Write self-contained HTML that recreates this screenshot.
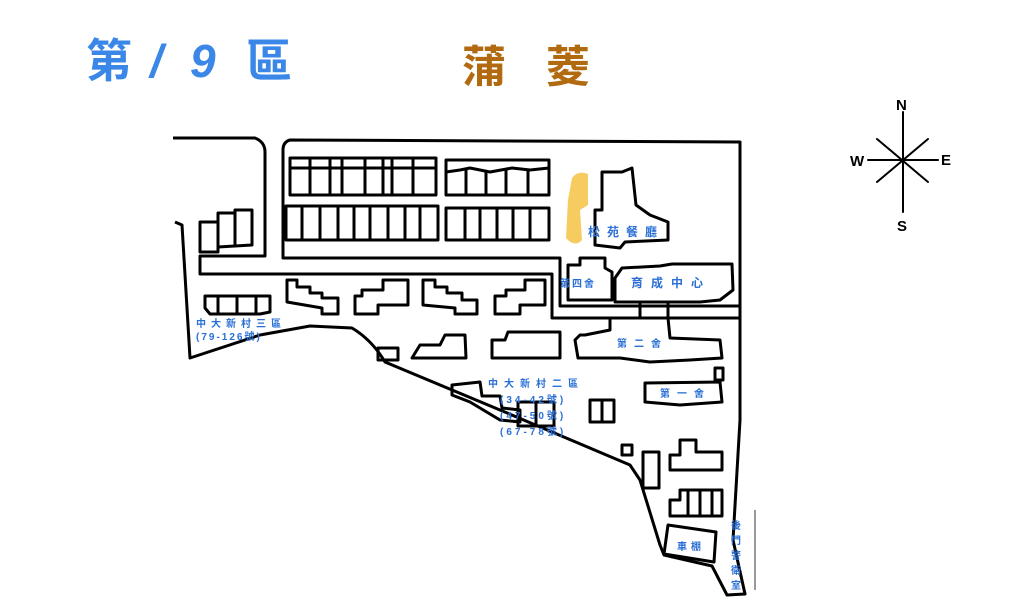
<!DOCTYPE html>
<html><head><meta charset="utf-8">
<style>
html,body{margin:0;padding:0;background:#fff;}
svg{display:block;}
.b{fill:none;stroke:#000;stroke-width:3;stroke-linejoin:round;}
.t{font-family:"Liberation Sans","Noto Sans CJK TC",sans-serif;fill:#2a6fd6;font-size:10px;font-weight:bold;}
</style></head><body>
<svg width="1016" height="600" viewBox="0 0 1016 600" xmlns="http://www.w3.org/2000/svg">
<text x="86" y="77" font-family="'Noto Sans CJK TC',sans-serif" font-size="46" font-weight="bold" fill="#3a87e8">第</text>
<text x="150" y="77" font-family="'Liberation Sans',sans-serif" font-size="46" font-style="italic" font-weight="bold" fill="#3a87e8">/</text>
<text x="190" y="77" font-family="'Liberation Sans',sans-serif" font-size="46" font-style="italic" font-weight="bold" fill="#3a87e8">9</text>
<text x="246" y="77" font-family="'Noto Sans CJK TC',sans-serif" font-size="46" font-weight="bold" fill="#3a87e8">區</text>
<text x="462" y="82" font-family="'Noto Sans CJK TC',sans-serif" font-size="44" font-weight="bold" fill="#b26a10" letter-spacing="40">蒲菱</text>

<!-- compass -->
<g stroke="#000" stroke-width="2" stroke-linecap="round">
<line x1="903" y1="112" x2="903" y2="212"/>
<line x1="868" y1="160" x2="938" y2="160"/>
<line x1="877" y1="139" x2="928" y2="182"/>
<line x1="928" y1="139" x2="877" y2="182"/>
</g>
<text x="896" y="110" font-family="'Liberation Sans',sans-serif" font-size="15" font-weight="bold">N</text>
<text x="850" y="166" font-family="'Liberation Sans',sans-serif" font-size="15" font-weight="bold">W</text>
<text x="941" y="165" font-family="'Liberation Sans',sans-serif" font-size="15" font-weight="bold">E</text>
<text x="897" y="231" font-family="'Liberation Sans',sans-serif" font-size="15" font-weight="bold">S</text>

<!-- outline -->
<path class="b" d="M173 138 L255 138 Q265 142 265 152 L265 256 L200 256 L200 274 L552 274 L552 318 L740 318"/>
<path class="b" d="M175 222 L182 225 L190 358 L260 335 L310 326 L352 328 Q372 340 385 362 L500 410 L630 465 L640 480 L660 545 L664 555 L712 566 L727 595 L745 594 L733 540 L740 420 L740 142 L290 140 Q283 142 283 150 L283 258 L560 258 L560 306 L740 306"/>
<line x1="755" y1="510" x2="755" y2="590" stroke="#999" stroke-width="2"/>

<!-- upper rows -->
<g class="b">
<rect x="290" y="158" width="146" height="37"/>
<line x1="310" y1="158" x2="310" y2="195"/><line x1="330" y1="158" x2="330" y2="195"/><line x1="342" y1="158" x2="342" y2="195"/><line x1="365" y1="158" x2="365" y2="195"/><line x1="383" y1="158" x2="383" y2="195"/><line x1="392" y1="158" x2="392" y2="195"/><line x1="413" y1="158" x2="413" y2="195"/>
<line x1="290" y1="168" x2="436" y2="168"/>
<rect x="446" y="160" width="103" height="35"/>
<line x1="466" y1="170" x2="466" y2="195"/><line x1="486" y1="170" x2="486" y2="195"/><line x1="506" y1="170" x2="506" y2="195"/><line x1="528" y1="170" x2="528" y2="195"/>
<path d="M446 172 L460 170 L470 168 L490 172 L512 168 L530 170 L549 168"/>
<rect x="286" y="206" width="152" height="34"/>
<line x1="302" y1="206" x2="302" y2="240"/><line x1="320" y1="206" x2="320" y2="240"/><line x1="338" y1="206" x2="338" y2="240"/><line x1="354" y1="206" x2="354" y2="240"/><line x1="370" y1="206" x2="370" y2="240"/><line x1="388" y1="206" x2="388" y2="240"/><line x1="405" y1="206" x2="405" y2="240"/><line x1="420" y1="206" x2="420" y2="240"/>
<rect x="446" y="208" width="103" height="32"/>
<line x1="465" y1="208" x2="465" y2="240"/><line x1="480" y1="208" x2="480" y2="240"/><line x1="497" y1="208" x2="497" y2="240"/><line x1="513" y1="208" x2="513" y2="240"/><line x1="530" y1="208" x2="530" y2="240"/>
<path d="M200 222 L218 222 L218 213 L235 213 L235 210 L252 210 L252 245 L218 247 L218 252 L200 252 Z"/>
<line x1="218" y1="222" x2="218" y2="247"/><line x1="235" y1="213" x2="235" y2="245"/>
<path d="M205 296 L270 296 L270 312 L260 314 L210 314 L205 308 Z"/>
<line x1="218" y1="296" x2="218" y2="314"/><line x1="237" y1="296" x2="237" y2="314"/><line x1="256" y1="296" x2="256" y2="314"/>
<path d="M287 280 L297 280 L297 287 L310 287 L310 293 L322 293 L322 298 L338 298 L338 314 L322 314 L322 308 L287 302 Z"/>
<path d="M355 296 L362 296 L362 290 L383 290 L383 280 L408 280 L408 305 L378 305 L378 314 L355 314 Z"/>
<path d="M423 280 L435 280 L435 287 L447 287 L447 293 L462 293 L462 300 L477 300 L477 314 L455 314 L455 308 L423 305 Z"/>
<path d="M495 296 L506 296 L506 290 L525 290 L525 280 L545 280 L545 305 L520 305 L520 314 L495 314 Z"/>
<rect x="378" y="348" width="20" height="12"/>
<path d="M412 358 L420 345 L440 345 L445 335 L465 335 L466 358 Z"/>
<path d="M492 340 L505 340 L508 332 L560 332 L560 358 L492 358 Z"/>
<path d="M568 265 L580 265 L580 258 L605 258 L605 268 L612 272 L612 300 L568 300 Z"/>
<path d="M615 278 L622 268 L660 266 L672 264 L732 264 L733 290 L720 300 L700 302 L615 302 Z"/>
<path d="M640 302 L640 318 M668 302 L668 318"/>
<path d="M575 340 L580 335 L585 335 L610 330 L610 318 L668 318 L670 338 L720 340 L722 358 L690 360 L650 362 L620 358 L578 358 Z"/>
<path d="M645 383 L720 382 L722 402 L680 405 L645 402 Z"/>
<rect x="715" y="368" width="8" height="12"/>
<path d="M452 385 L480 382 L482 396 L500 396 L502 408 L520 410 L520 422 L500 420 L470 402 L452 395 Z"/>
<rect x="518" y="402" width="36" height="24"/>
<line x1="536" y1="402" x2="536" y2="426"/>
<rect x="590" y="400" width="24" height="22"/>
<line x1="602" y1="400" x2="602" y2="422"/>
<rect x="622" y="445" width="10" height="10"/>
<rect x="643" y="452" width="16" height="36"/>
<path d="M670 470 L670 455 L680 455 L680 440 L696 440 L696 452 L722 452 L722 470 Z"/>
<path d="M670 516 L670 500 L680 500 L680 490 L722 490 L722 516 Z"/>
<line x1="688" y1="490" x2="688" y2="516"/><line x1="700" y1="490" x2="700" y2="516"/><line x1="712" y1="490" x2="712" y2="516"/>
<path d="M668 525 L716 532 L714 562 L664 554 Z"/>
</g>
<path d="M572 178 Q578 170 588 174 L588 205 L580 210 L582 240 Q575 248 566 238 L568 200 Z" fill="#f5c243" opacity="0.85"/>
<path class="b" d="M595 245 L595 210 L602 210 L602 172 L622 172 L632 168 L636 205 L650 215 L668 222 L668 240 L625 242 L620 248 L595 245 Z"/>

<g class="t">
<text x="588" y="236" font-size="12" letter-spacing="7">松苑餐廳</text>
<text x="560" y="287" letter-spacing="2">第四舍</text>
<text x="631" y="287" font-size="12" letter-spacing="8">育成中心</text>
<text x="196" y="327" letter-spacing="5">中大新村三區</text>
<text x="196" y="340" letter-spacing="2">(79-126號)</text>
<text x="617" y="347" letter-spacing="7">第二舍</text>
<text x="488" y="387" letter-spacing="6">中大新村二區</text>
<text x="500" y="403" letter-spacing="3">(34-42號)</text>
<text x="500" y="419" letter-spacing="3">(47-50號)</text>
<text x="500" y="435" letter-spacing="3">(67-78號)</text>
<text x="660" y="397" letter-spacing="7">第一舍</text>
<text x="677" y="550" letter-spacing="4">車棚</text>
<text x="731" y="529">後</text>
<text x="731" y="544">門</text>
<text x="731" y="559">警</text>
<text x="731" y="574">衛</text>
<text x="731" y="589">室</text>
</g>
</svg>
</body></html>
